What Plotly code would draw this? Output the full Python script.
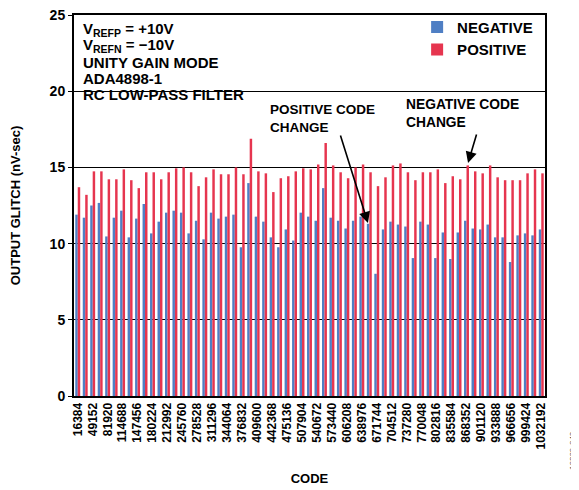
import plotly.graph_objects as go

codes = [16384 * k for k in range(1, 64)]
tick_codes = [16384 * k for k in range(1, 64, 2)]
tick_labels = [str(c) for c in tick_codes]

negative = [11.9, 11.7, 12.5, 12.67, 10.47, 11.7, 12.16, 10.41, 11.64, 12.6,
            10.67, 11.44, 12.03, 12.16, 12.03, 10.67, 11.5, 10.28, 12.03, 11.64,
            11.77, 11.9, 9.76, 13.97, 11.77, 11.44, 10.41, 9.76, 10.93, 10.2,
            12.03, 11.77, 11.5, 13.64, 11.7, 11.5, 10.99, 11.5, 11.77, 11.3,
            8.02, 10.93, 11.44, 11.25, 11.12, 9.05, 11.44, 11.25, 9.05, 10.73,
            8.99, 10.73, 11.5, 10.99, 10.93, 11.25, 10.41, 10.41, 8.79, 10.54,
            10.67, 10.54, 10.93]
positive = [13.7, 13.2, 14.74, 14.74, 14.22, 14.22, 14.87, 14.16, 13.64, 14.68,
            14.68, 14.22, 14.68, 14.94, 15.0, 14.68, 13.77, 14.35, 14.87, 14.55,
            14.55, 15.0, 14.55, 16.88, 14.74, 14.61, 13.38, 14.29, 14.42, 14.74,
            14.94, 14.87, 15.19, 16.6, 15.13, 14.68, 14.29, 15.0, 15.19, 14.68,
            13.77, 14.35, 15.13, 15.26, 14.68, 14.16, 14.68, 14.68, 14.87, 13.97,
            14.42, 14.22, 15.13, 14.74, 14.61, 15.13, 14.35, 14.16, 14.16, 14.16,
            14.61, 14.87, 14.61]

info_lines = ["V<sub>REFP</sub> = +10V", "V<sub>REFN</sub> = \u221210V",
              "UNITY GAIN MODE", "ADA4898-1", "RC LOW-PASS FILTER"]
info_y = [0.962, 0.919, 0.876, 0.834, 0.791]

FONT = "Arial, Liberation Sans, sans-serif"
BLUE = "#4F7FC4"
RED = "#E6354F"

fig = go.Figure()
fig.add_trace(go.Bar(x=codes, y=negative, name="NEGATIVE", marker=dict(color=BLUE, line=dict(width=0))))
fig.add_trace(go.Bar(x=codes, y=positive, name="POSITIVE", marker=dict(color=RED, line=dict(width=0))))

# page body has an 8px default margin; figure sized to fit the window
fig.update_layout(
    width=571, height=482,
    margin=dict(l=66, r=34, t=7, b=94, autoexpand=False),
    paper_bgcolor="white", plot_bgcolor="white",
    barmode="group", bargap=0.34, bargroupgap=0,
    font=dict(family=FONT, color="black", size=12),
    showlegend=True,
    legend=dict(x=0.7285, xanchor="left", y=1.011, yanchor="top",
                bgcolor="rgba(0,0,0,0)", font=dict(size=15, weight="bold"),
                itemwidth=30, tracegroupgap=0, borderwidth=0),
    xaxis=dict(
        range=[0.5 * 16384, 63.5 * 16384], automargin=False,
        tickmode="array", tickvals=tick_codes, ticktext=tick_labels,
        tickangle=-90, tickfont=dict(size=12, weight="bold"),
        showline=True, linecolor="black", linewidth=2, mirror=True,
        showgrid=False, ticks="", zeroline=False, ticklabeloverflow="allow",
        title=dict(text="CODE", font=dict(size=13, weight="bold"), standoff=25),
    ),
    yaxis=dict(
        range=[0, 25], tickvals=[0, 5, 10, 15, 20, 25], automargin=False,
        tickfont=dict(size=14, weight="bold"), ticklabeloverflow="allow",
        showline=True, linecolor="black", linewidth=2, mirror=True,
        showgrid=True, gridcolor="black", gridwidth=1,
        ticks="outside", ticklen=4, tickcolor="black", zeroline=False,
        title=dict(text="OUTPUT GLITCH (nV-sec)", font=dict(size=13, weight="bold"), standoff=28),
    ),
)

fig.add_shape(type="rect", xref="paper", yref="paper", x0=0.004, x1=0.401, y0=0.772, y1=0.995,
              fillcolor="white", line=dict(width=0), layer="between")

for txt, yy in zip(info_lines, info_y):
    fig.add_annotation(
        xref="paper", yref="paper", x=0.015, y=yy, xanchor="left", yanchor="middle",
        align="left", showarrow=False, font=dict(size=15, weight="bold"), text=txt)

fig.add_annotation(
    x=652400, y=11.35, xref="x", yref="y", ax=591100, ay=17.19, axref="x", ayref="y",
    showarrow=True, arrowhead=2, arrowsize=1.4, arrowwidth=1.6, arrowcolor="black", text="")
fig.add_annotation(
    x=871700, y=15.29, xref="x", yref="y", ax=891300, ay=17.26, axref="x", ayref="y",
    showarrow=True, arrowhead=2, arrowsize=1.4, arrowwidth=1.6, arrowcolor="black", text="")
fig.add_annotation(
    xref="paper", yref="paper", x=0.412, y=0.729, xanchor="left", yanchor="middle",
    align="left", showarrow=False, font=dict(size=13.5, weight="bold"),
    text="POSITIVE CODE<br>CHANGE")
fig.add_annotation(
    xref="paper", yref="paper", x=0.701, y=0.742, xanchor="left", yanchor="middle",
    align="left", showarrow=False, font=dict(size=13.8, weight="bold"),
    text="NEGATIVE CODE<br>CHANGE")
fig.add_annotation(
    xref="paper", yref="paper", x=1.057, y=-0.142, xanchor="center", yanchor="middle",
    textangle=-90, showarrow=False, font=dict(size=8, color="#555555"),
    text="10239-043")

fig.write_html("out.html")
